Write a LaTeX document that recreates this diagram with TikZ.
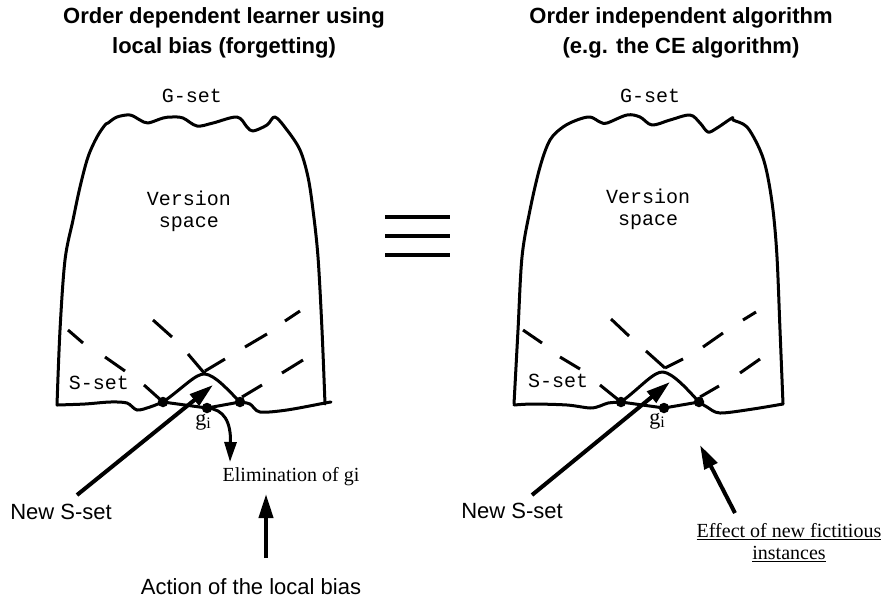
\documentclass[tikz,border=0pt]{standalone}
\usepackage{fontspec}
\setmainfont{Liberation Serif}
\setsansfont{Liberation Sans}
\setmonofont{Liberation Mono}
\usetikzlibrary{arrows.meta}
\begin{document}
\begin{tikzpicture}[x=1pt,y=-1pt,
  outline/.style={line width=3pt, line join=round, line cap=round},
  dashseg/.style={line width=3pt},
  bigarrow/.style={line width=4pt, -{Triangle[length=24pt,width=14pt]}},
  elimarrow/.style={line width=3pt, -{Triangle[length=20pt,width=12pt]}},
  dot/.style={circle, fill, inner sep=0pt, minimum size=10.5pt},
  title/.style={font=\sffamily\bfseries\fontsize{22}{30}\selectfont, align=center},
  mono/.style={font=\ttfamily\fontsize{20}{22}\selectfont, align=center, inner sep=0pt},
  sanslabel/.style={font=\sffamily\fontsize{22}{26}\selectfont, inner sep=0pt},
  seriflabel/.style={font=\rmfamily\fontsize{20}{22}\selectfont, inner sep=0pt, align=center},
  glabel/.style={font=\rmfamily\fontsize{22}{22}\selectfont, inner sep=0pt},
]
\useasboundingbox (0,0) rectangle (893,598);

% ---------- titles ----------
\node[title] (tl) at (224,33) {Order dependent learner using\\local bias (forgetting)};
\node[title] (tr) at (681,33) {Order independent algorithm\\(e.g. the CE algorithm)};

% ---------- LEFT version space ----------
\draw[outline] plot[smooth, tension=0.55] coordinates {
 (57,405) (60,330) (65,260) (73,220) (80,187) (88,157) (97,137) (105,125)
 (108,123) (117,117) (130,115) (140,120) (148,123) (163,118) (172,117)
 (183,118) (197,126) (213,123) (237,117) (247,127) (253,131) (267,125)
 (275,117) (287,130) (300,150) (308,177) (313,210) (318,257) (322,330) (325,404)};
\draw[outline] plot[smooth, tension=0.5] coordinates {
 (57,405) (85,404) (110,402) (127,403) (137,410) (150,407) (163,402)};
\draw[outline] plot[smooth, tension=0.5] coordinates {
 (240,402) (250,404) (260,412) (287,410) (325,403) (331,402)};

\node[mono] (lg) at (192,96) {G-set};
\node[mono] (lv) at (189,211) {Version\\space};
\node[mono] (ls) at (99,383) {S-set};

% dashed lines (left)
\draw[dashseg] (68,330) -- (83,343) (105,357) -- (125,371) (144,385) -- (163,402)
  (153,320) -- (172,337) (188,354) -- (205,374)
  (205,371) -- (225,359) (245,347) -- (267,334) (285,321) -- (300,311)
  (242,397) -- (262,385) (282,373) -- (303,360);

% dots and arch (left)
\node[dot] (ld1) at (163,402) {};
\node[dot] (ldg) at (207,408) {};
\node[dot] (ld2) at (240,402) {};
\draw[outline] (ld1.center) -- (ldg.center) -- (ld2.center);
\draw[outline] (ld1.center) .. controls (183,388) and (196,373) .. (205,374)
  .. controls (215,375) and (228,390) .. (ld2.center);
\node[glabel] (lgi) at (203,422) {g\raisebox{-0.35ex}{\fontsize{16}{16}\selectfont i}};

% arrows (left)
\node[sanslabel] (lnew) at (61,512) {New S-set};
\coordinate (lnewstart) at (77,495);
\coordinate (lnewtip) at (213,385);
\draw[bigarrow] (lnewstart) -- (lnewtip);

\node[seriflabel] (elim) at (291,477) {Elimination of gi};
\coordinate (elimtip) at (230,462);
\draw[elimarrow] (ldg.center) .. controls (224,409) and (231,422) .. (elimtip);

\node[sanslabel] (act) at (251,587) {Action of the local bias};
\coordinate (actstart) at (266,558);
\coordinate (acttip) at (266,494);
\draw[bigarrow] (actstart) -- (acttip);

% ---------- equal sign ----------
\draw[line width=4pt] (385,217) -- (450,217) (385,236) -- (450,236) (385,255) -- (450,255);

% ---------- RIGHT version space ----------
\draw[outline] plot[smooth, tension=0.55] coordinates {
 (514,404) (518,330) (522,257) (530,210) (540,167) (550,140) (563,127)
 (577,120) (590,117) (600,122) (607,123) (627,115) (640,117) (652,125)
 (670,120) (690,115) (700,123) (708,132) (717,128) (732,118) (733,120)
 (747,127) (760,150) (767,173) (773,210) (777,257) (780,330) (783,404)};
\draw[outline] plot[smooth, tension=0.5] coordinates {
 (514,405) (533,404) (567,405) (590,408) (600,406) (608,403) (621,402)};
\draw[outline] plot[smooth, tension=0.5] coordinates {
 (699,402) (707,407) (720,413) (753,409) (783,404)};

\node[mono] (rg) at (650,96) {G-set};
\node[mono] (rv) at (648,209) {Version\\space};
\node[mono] (rs) at (558,381) {S-set};

\draw[dashseg] (523,330) -- (542,343) (560,357) -- (580,369) (600,385) -- (621,402)
  (611,319) -- (629,336) (646,351) -- (665,368)
  (665,368) -- (683,359) (703,347) -- (723,333) (743,320) -- (756,312)
  (700,397) -- (719,386) (740,373) -- (760,359);

\node[dot] (rd1) at (621,402) {};
\node[dot] (rdg) at (664,408) {};
\node[dot] (rd2) at (699,402) {};
\draw[outline] (rd1.center) -- (rdg.center) -- (rd2.center);
\draw[outline] (rd1.center) .. controls (640,388) and (654,371) .. (663,372)
  .. controls (673,373) and (688,390) .. (rd2.center);
\node[glabel] (rgi) at (657,421) {g\raisebox{-0.35ex}{\fontsize{16}{16}\selectfont i}};

\node[sanslabel] (rnew) at (512,511) {New S-set};
\coordinate (rnewstart) at (532,495);
\coordinate (rnewtip) at (670,382);
\draw[bigarrow] (rnewstart) -- (rnewtip);

\node[seriflabel] (eff) at (789,543) {\underline{Effect of new fictitious}\\\underline{instances}};
\coordinate (effstart) at (735,513);
\coordinate (efftip) at (700,445);
\draw[bigarrow] (effstart) -- (efftip);
\end{tikzpicture}
\end{document}
